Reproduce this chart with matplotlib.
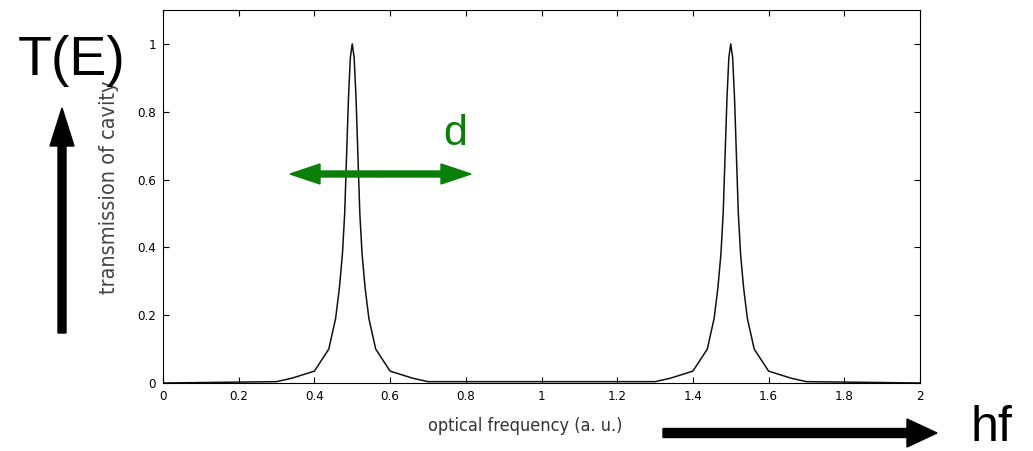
import matplotlib.pyplot as plt
from matplotlib.patches import FancyArrow

# transmission profile read around each resonance (offset from peak, value)
peak_centers = [0.5, 1.5]
peak_offset = [0.0, 0.005, 0.010, 0.015, 0.020, 0.026, 0.034, 0.044, 0.062, 0.100, 0.160, 0.200]
peak_value = [1.0, 0.96, 0.84, 0.67, 0.50, 0.38, 0.28, 0.19, 0.10, 0.035, 0.014, 0.004]
baseline_value = 0.0

x_ticks = [0, 0.2, 0.4, 0.6, 0.8, 1, 1.2, 1.4, 1.6, 1.8, 2]
x_tick_labels = ["0", "0.2", "0.4", "0.6", "0.8", "1", "1.2", "1.4", "1.6", "1.8", "2"]
y_ticks = [0, 0.2, 0.4, 0.6, 0.8, 1]
y_tick_labels = ["0", "0.2", "0.4", "0.6", "0.8", "1"]

# assemble the curve from the read profile
xs, ys = [0.0], [baseline_value]
for c in peak_centers:
    for dx, v in zip(peak_offset[::-1], peak_value[::-1]):
        xs.append(c - dx)
        ys.append(v)
    for dx, v in zip(peak_offset[1:], peak_value[1:]):
        xs.append(c + dx)
        ys.append(v)
xs.append(2.0)
ys.append(baseline_value)

plt.rcParams["font.family"] = ["DejaVu Sans"]
plt.rcParams["font.stretch"] = "condensed"

fig = plt.figure(figsize=(10.33, 4.51), dpi=100)
ax = fig.add_axes([163 / 1033, 1 - 383 / 451, 757 / 1033, 373 / 451])
ax.plot(xs, ys, color="#111111", lw=1.1)
ax.set_xlim(0, 2)
ax.set_ylim(0, 1.1)
ax.set_xticks(x_ticks, x_tick_labels)
ax.set_yticks(y_ticks, y_tick_labels)
ax.tick_params(direction="in", length=4, width=0.8, labelsize=9.5, top=True, right=True, pad=5)
ax.set_xlabel("optical frequency (a. u.)", fontsize=13, color="#333333")
ax.xaxis.set_label_coords(0.478, -0.09)
ax.set_ylabel("transmission of cavity", fontsize=15.5, color="#444444")
ax.yaxis.set_label_coords(-0.058, 0.525)
for s in ax.spines.values():
    s.set_linewidth(0.8)


def px_arrow(x0, y0, x1, y1, width, head_w, head_l, color):
    # coordinates in pixels from top-left, drawn in inches
    a = FancyArrow(x0 / 100, (451 - y0) / 100, (x1 - x0) / 100, (y0 - y1) / 100,
                   width=width / 100, head_width=head_w / 100, head_length=head_l / 100,
                   length_includes_head=True, color=color, transform=fig.dpi_scale_trans,
                   clip_on=False)
    fig.add_artist(a)


px_arrow(62, 333, 62, 108, 8, 24, 38, "black")
px_arrow(663, 433, 937, 433, 9, 28, 30, "black")
px_arrow(380, 174, 290, 174, 6, 20, 30, "#0a800a")
px_arrow(380, 174, 471, 174, 6, 20, 30, "#0a800a")

big = ["Liberation Sans", "DejaVu Sans"]
fig.text(18 / 1033, 1 - 75 / 451, "T(E)", fontsize=40, family=big, stretch="normal")
fig.text(971 / 1033, 1 - 441 / 451, "hf", fontsize=36, family=big, stretch="normal",
         va="baseline")
fig.text(443 / 1033, 1 - 145 / 451, "d", fontsize=31, color="#0a800a", family=big,
         stretch="normal")

fig.savefig("out.png", dpi=100)
